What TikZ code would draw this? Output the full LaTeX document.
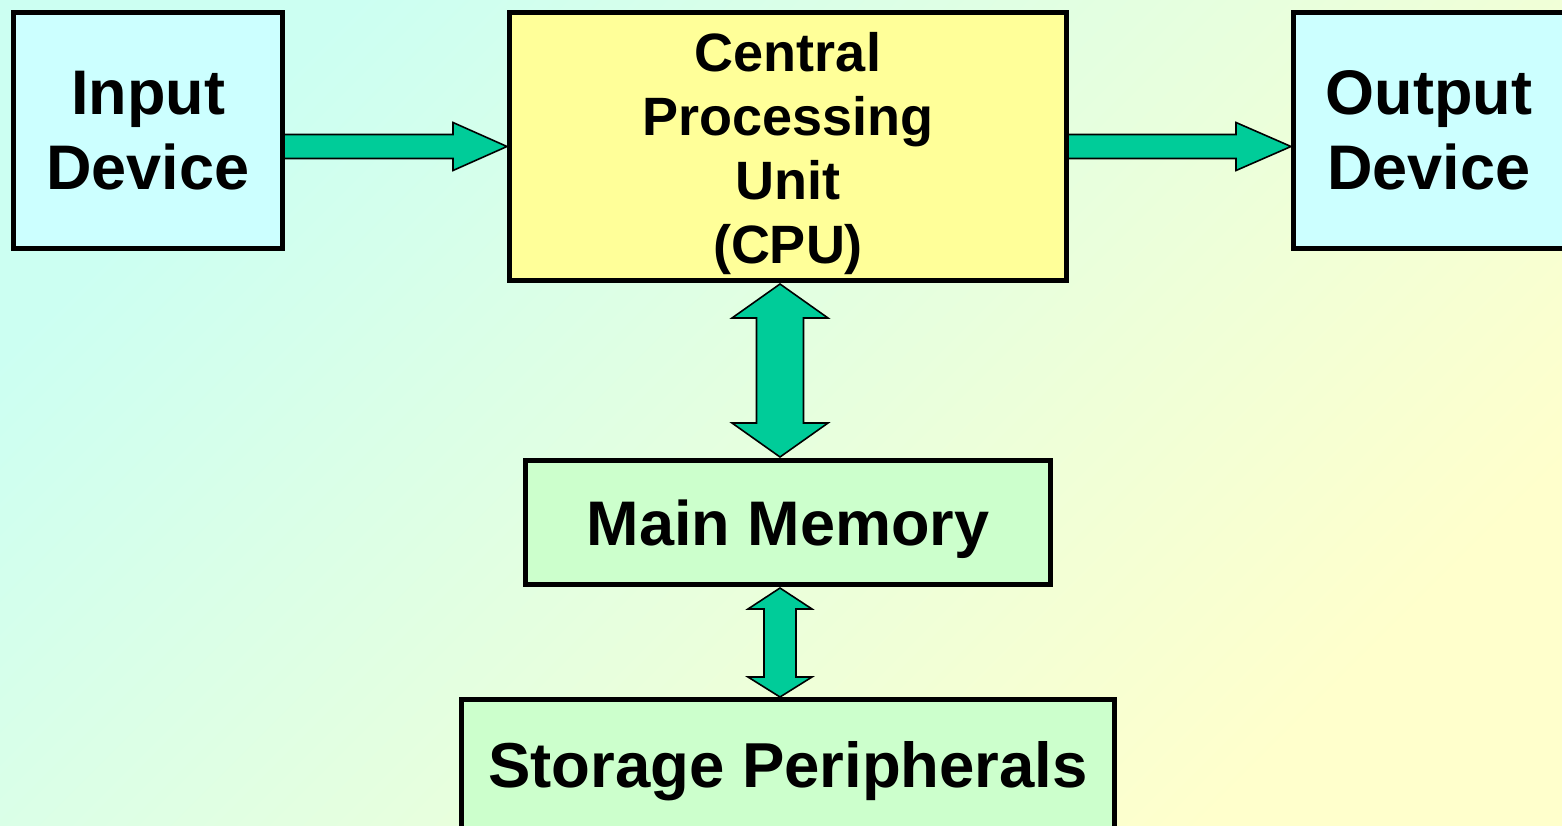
\documentclass[tikz,border=0pt]{standalone}
\usepackage{fontspec}
\setmainfont{Liberation Sans}
\usetikzlibrary{calc}
\definecolor{bgA}{RGB}{204,255,242}
\definecolor{bgB}{RGB}{255,255,204}
\definecolor{cyanbox}{RGB}{204,255,255}
\definecolor{yellowbox}{RGB}{255,255,153}
\definecolor{greenbox}{RGB}{204,255,204}
\definecolor{arrowgreen}{RGB}{0,204,153}
\tikzset{
  box/.style={draw=black, line width=5pt, rectangle, inner sep=0pt, align=center,
    font=\bfseries},
  fat/.style={draw=black, fill=arrowgreen, line width=1.6pt, line join=miter},
}
\begin{document}
\begin{tikzpicture}[x=1pt, y=-1pt]
\useasboundingbox (0,0) rectangle (1562,825);
\clip (0,0) rectangle (1562,825);
\shade[top color=bgA, bottom color=bgB, shading angle=45] (0,0) rectangle (1562,825);

% boxes
\node[box, fill=cyanbox, minimum width=269pt, minimum height=236pt,
  font=\bfseries\fontsize{63pt}{75pt}\selectfont] (in) at (148,130.5) {Input\\Device};
\node[box, fill=yellowbox, minimum width=557pt, minimum height=268pt,
  font=\bfseries\fontsize{54pt}{64pt}\selectfont] (cpu) at (788,146.5)
  {\rule{0pt}{53pt}Central\\Processing\\Unit\\(CPU)};
\node[box, fill=cyanbox, minimum width=290pt, minimum height=236pt,
  font=\bfseries\fontsize{63pt}{75pt}\selectfont] (out) at (1438.5,130.5)
  {Output\hspace*{19pt}\\Device\hspace*{19pt}};
\node[box, fill=greenbox, minimum width=525pt, minimum height=124pt,
  font=\bfseries\fontsize{63pt}{75pt}\selectfont, text height=45pt, text depth=0pt] (mm) at (788,522.5) {Main Memory};
\node[box, fill=greenbox, minimum width=653pt, minimum height=130pt,
  font=\bfseries\fontsize{63.5pt}{75pt}\selectfont, text height=45pt, text depth=0pt] (st) at (788,764.5) {Storage Peripherals};

% Input -> CPU
\coordinate (a1s) at (in.east |- cpu.west);
\coordinate (a1t) at (cpu.west);
\draw[fat] ($(a1s)+(0,-12)$) -- ($(a1t)+(-54,-12)$) -- ($(a1t)+(-54,-24)$) -- (a1t)
  -- ($(a1t)+(-54,24)$) -- ($(a1t)+(-54,12)$) -- ($(a1s)+(0,12)$);

% CPU -> Output
\coordinate (a2s) at (cpu.east);
\coordinate (a2t) at (out.west |- cpu.east);
\draw[fat] ($(a2s)+(0,-12)$) -- ($(a2t)+(-55,-12)$) -- ($(a2t)+(-55,-24)$) -- (a2t)
  -- ($(a2t)+(-55,24)$) -- ($(a2t)+(-55,12)$) -- ($(a2s)+(0,12)$);

% CPU <-> Main Memory
\coordinate (b1t) at ($(cpu.south)+(-8,1)$);
\coordinate (b1b) at ($(mm.north)+(-8,-1)$);
\draw[fat] (b1t) -- ($(b1t)+(48,34)$) -- ($(b1t)+(23.5,34)$) -- ($(b1b)+(23.5,-34)$)
  -- ($(b1b)+(48,-34)$) -- (b1b) -- ($(b1b)+(-48,-34)$) -- ($(b1b)+(-23.5,-34)$)
  -- ($(b1t)+(-23.5,34)$) -- ($(b1t)+(-48,34)$) -- cycle;

% Main Memory <-> Storage
\coordinate (b2t) at ($(mm.south)+(-8,1)$);
\coordinate (b2b) at ($(st.north)+(-8,0)$);
\draw[fat] (b2t) -- ($(b2t)+(32,21)$) -- ($(b2t)+(16,21)$) -- ($(b2b)+(16,-20)$)
  -- ($(b2b)+(32,-20)$) -- (b2b) -- ($(b2b)+(-32,-20)$) -- ($(b2b)+(-16,-20)$)
  -- ($(b2t)+(-16,21)$) -- ($(b2t)+(-32,21)$) -- cycle;
\end{tikzpicture}
\end{document}
